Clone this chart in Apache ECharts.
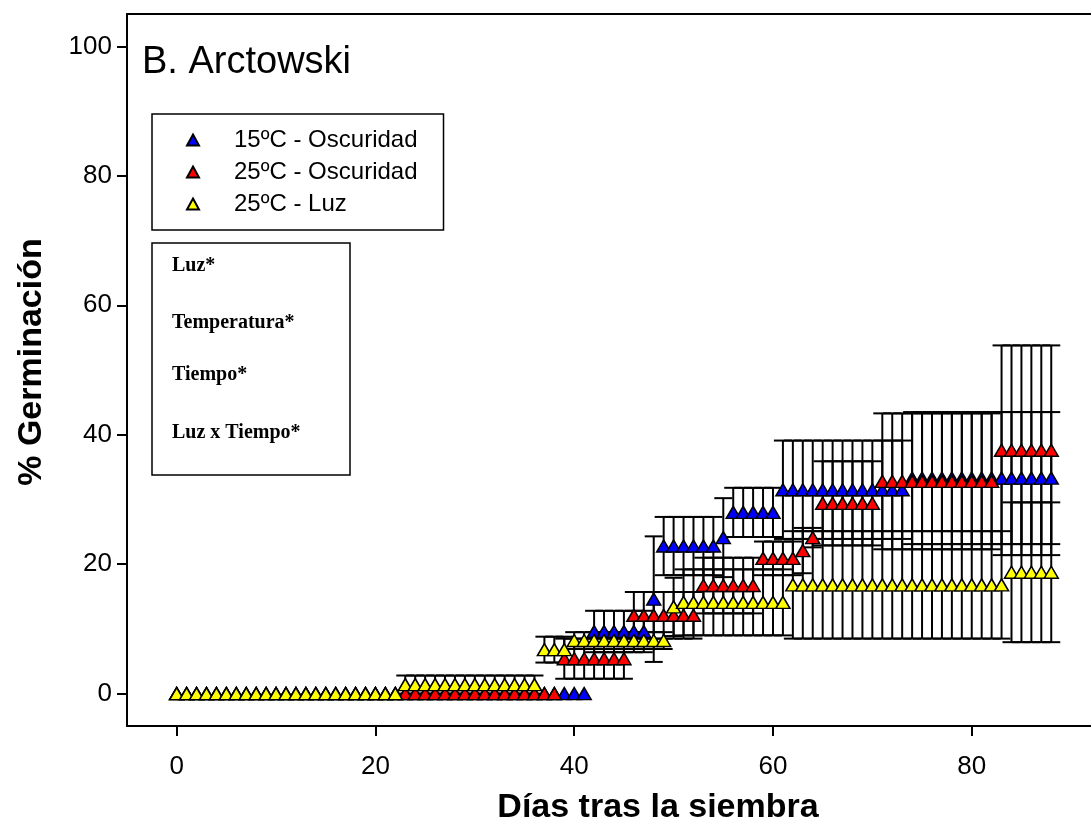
<!DOCTYPE html>
<html>
<head>
<meta charset="utf-8">
<script src="https://cdn.jsdelivr.net/npm/echarts@6/dist/echarts.min.js"></script>
<style>
  html, body { margin: 0; padding: 0; background: #fff; }
  #main { width: 1091px; height: 828px; }
</style>
</head>
<body>
<div id="main"></div>
<script>
var days = [0,1,2,3,4,5,6,7,8,9,10,11,12,13,14,15,16,17,18,19,20,21,22,23,24,25,26,27,28,29,
  30,31,32,33,34,35,36,37,38,39,40,41,42,43,44,45,46,47,48,49,50,51,52,53,54,55,56,57,58,59,
  60,61,62,63,64,65,66,67,68,69,70,71,72,73,74,75,76,77,78,79,80,81,82,83,84,85,86,87,88];

var seriesNames = ['15ºC - Oscuridad', '25ºC - Oscuridad', '25ºC - Luz'];
var xTicks = [0, 20, 40, 60, 80];
var yTicks = [0, 20, 40, 60, 80, 100];

// 15ºC - Oscuridad
var blueMean = [0,0,0,0,0,0,0,0,0,0, 0,0,0,0,0,0,0,0,0,0, 0,0,0,0,0,0,0,0,0,0, 0,0,0,0,0,0,0,0,0,0,
  0,0,9.6,9.6,9.6,9.6,9.6,9.6,14.6,22.8,
  22.8,22.8,22.8,22.8,22.8,24.1,28,28,28,28,
  28,31.5,31.5,31.5,31.5,31.5,31.5,31.5,31.5,31.5,
  31.5,31.5,31.5,31.5,33.3,33.3,33.3,33.3,33.3,33.3,
  33.3,33.3,33.3,33.3,33.3,33.3,33.3,33.3,33.3];
var blueSe = [0,0,0,0,0,0,0,0,0,0, 0,0,0,0,0,0,0,0,0,0, 0,0,0,0,0,0,0,0,0,0, 0,0,0,0,0,0,0,0,0,0,
  0,0,3.2,3.2,3.2,3.2,3.2,3.2,9.7,4.5,
  4.5,4.5,4.5,4.5,4.5,6.1,3.8,3.8,3.8,3.8,
  3.8,7.6,7.6,7.6,7.6,7.6,7.6,7.6,7.6,7.6,
  7.6,7.6,7.6,7.6,10.2,10.2,10.2,10.2,10.2,10.2,
  10.2,10.2,10.2,10.2,10.2,10.2,10.2,10.2,10.2];

// 25ºC - Oscuridad
var redMean = [0,0,0,0,0,0,0,0,0,0, 0,0,0,0,0,0,0,0,0,0, 0,0,0,0,0,0,0,0,0,0,
  0,0,0,0,0,0,0,0,0,5.4,
  5.4,5.4,5.4,5.4,5.4,5.4,12.1,12.1,12.1,12.1,
  12.1,12.1,12.1,16.7,16.7,16.7,16.7,16.7,16.7,20.9,
  20.9,20.9,20.9,22.1,24.1,29.4,29.4,29.4,29.4,29.4,
  29.4,32.8,32.8,32.8,32.8,32.8,32.8,32.8,32.8,32.8,
  32.8,32.8,32.8,37.6,37.6,37.6,37.6,37.6,37.6];
var redSe = [0,0,0,0,0,0,0,0,0,0, 0,0,0,0,0,0,0,0,0,0, 0,0,0,0,0,0,0,0,0,0,
  0,0,0,0,0,0,0,0,0,3.1,
  3.1,3.1,3.1,3.1,3.1,3.1,3.6,3.6,3.6,3.6,
  3.6,3.6,3.6,4.3,4.3,4.3,4.3,4.3,4.3,2.6,
  2.6,2.6,2.6,3.5,1.5,6.5,6.5,6.5,6.5,6.5,
  6.5,10.5,10.5,10.5,10.5,10.5,10.5,10.5,10.5,10.5,
  10.5,10.5,10.5,16.2,16.2,16.2,16.2,16.2,16.2];

// 25ºC - Luz
var yellowMean = [0,0,0,0,0,0,0,0,0,0, 0,0,0,0,0,0,0,0,0,0,
  0,0,0,1.4,1.4,1.4,1.4,1.4,1.4,1.4,
  1.4,1.4,1.4,1.4,1.4,1.4,1.4,6.8,6.8,6.8,
  8.2,8.2,8.2,8.2,8.2,8.2,8.2,8.2,8.2,8.2,
  13.4,14.1,14.1,14.1,14.1,14.1,14.1,14.1,14.1,14.1,
  14.1,14.1,16.8,16.8,16.8,16.8,16.8,16.8,16.8,16.8,
  16.8,16.8,16.8,16.8,16.8,16.8,16.8,16.8,16.8,16.8,
  16.8,16.8,16.8,16.8,18.75,18.75,18.75,18.75,18.75];
var yellowSe = [0,0,0,0,0,0,0,0,0,0, 0,0,0,0,0,0,0,0,0,0,
  0,0,0,1.4,1.4,1.4,1.4,1.4,1.4,1.4,
  1.4,1.4,1.4,1.4,1.4,1.4,1.4,2,2,2,
  1.3,1.3,1.3,1.3,1.3,1.3,1.3,1.3,1.3,1.3,
  4.5,5.1,5.1,5.1,5.1,5.1,5.1,5.1,5.1,5.1,
  5.1,5.1,8.3,8.3,8.3,8.3,8.3,8.3,8.3,8.3,
  8.3,8.3,8.3,8.3,8.3,8.3,8.3,8.3,8.3,8.3,
  8.3,8.3,8.3,8.3,10.8,10.8,10.8,10.8,10.8];

var colors = ['#0000ff', '#ff0000', '#ffff00'];
var means = [blueMean, redMean, yellowMean];
var ses = [blueSe, redSe, yellowSe];

var font = 'Liberation Sans, Arial, sans-serif';
var serif = 'bold 20px Liberation Serif, Times New Roman, serif';

function errorBar(params, api) {
    var x = api.value(0);
    var top = api.coord([x, api.value(2)]);
    var bot = api.coord([x, api.value(1)]);
    var hw = 9;
    var st = { stroke: '#000', lineWidth: 2 };
    return {
        type: 'group',
        children: [
            { type: 'line', shape: { x1: top[0], y1: top[1], x2: bot[0], y2: bot[1] }, style: st },
            { type: 'line', shape: { x1: top[0] - hw, y1: top[1], x2: top[0] + hw, y2: top[1] }, style: st },
            { type: 'line', shape: { x1: bot[0] - hw, y1: bot[1], x2: bot[0] + hw, y2: bot[1] }, style: st }
        ]
    };
}

var series = [];
for (var s = 0; s < 3; s++) {
    var bars = [];
    for (var i = 0; i < days.length; i++) {
        if (ses[s][i] > 0) bars.push([days[i], means[s][i] - ses[s][i], means[s][i] + ses[s][i]]);
    }
    series.push({
        name: 'eb' + s,
        type: 'custom',
        renderItem: errorBar,
        data: bars,
        z: 2,
        silent: true
    });
}
for (var s = 0; s < 3; s++) {
    series.push({
        name: seriesNames[s],
        type: 'scatter',
        symbol: 'triangle',
        symbolSize: [14, 12],
        itemStyle: { color: colors[s], borderColor: '#000', borderWidth: 1.5, opacity: 1 },
        data: days.map(function (d, i) { return [d, means[s][i]]; }),
        z: 3 + s
    });
}

var chart = echarts.init(document.getElementById('main'));

var option = {
    animation: false,
    backgroundColor: '#fff',
    grid: { left: 127, right: 0, top: 14, bottom: 102 },
    xAxis: [{
        type: 'value',
        min: -5,
        max: 92,
        axisLine: { onZero: false, lineStyle: { color: '#000', width: 2 } },
        axisTick: { show: true, customValues: xTicks, length: 10, lineStyle: { color: '#000', width: 2 } },
        axisLabel: { customValues: xTicks, margin: 28, fontSize: 26, color: '#000', fontFamily: font },
        splitLine: { show: false }
    }, {
        type: 'value',
        position: 'top',
        min: -5,
        max: 92,
        axisLine: { show: true, onZero: false, lineStyle: { color: '#000', width: 2 } },
        axisTick: { show: false },
        axisLabel: { show: false },
        splitLine: { show: false }
    }],
    yAxis: {
        type: 'value',
        min: -5,
        max: 105,
        axisLine: { show: true, onZero: false, lineStyle: { color: '#000', width: 2 } },
        axisTick: { show: true, customValues: yTicks, length: 10, lineStyle: { color: '#000', width: 2 } },
        axisLabel: { customValues: yTicks, margin: 15, fontSize: 26, color: '#000', fontFamily: font },
        splitLine: { show: false }
    },
    legend: {
        orient: 'vertical',
        left: 152,
        top: 114,
        padding: [10, 26, 10, 34],
        itemGap: 0,
        itemWidth: 12,
        itemHeight: 11,
        icon: 'triangle',
        borderColor: '#000',
        borderWidth: 1.5,
        selectedMode: false,
        textStyle: { fontSize: 24, color: '#000', fontFamily: font, lineHeight: 32, padding: [0, 0, 0, 30] },
        data: seriesNames
    },
    graphic: [
        { type: 'text', left: 142, top: 44, style: { text: 'B. Arctowski', font: '38px ' + font, fill: '#000' } },
        { type: 'rect', shape: { x: 152, y: 243, width: 198, height: 232 }, style: { fill: 'none', stroke: '#000', lineWidth: 1.5 } },
        { type: 'text', x: 172, y: 266, style: { text: 'Luz*', font: serif, fill: '#000', verticalAlign: 'middle' } },
        { type: 'text', x: 172, y: 323, style: { text: 'Temperatura*', font: serif, fill: '#000', verticalAlign: 'middle' } },
        { type: 'text', x: 172, y: 375, style: { text: 'Tiempo*', font: serif, fill: '#000', verticalAlign: 'middle' } },
        { type: 'text', x: 172, y: 433, style: { text: 'Luz x Tiempo*', font: serif, fill: '#000', verticalAlign: 'middle' } },
        { type: 'text', x: 658, y: 808, style: { text: 'Días tras la siembra', font: 'bold 34px ' + font, fill: '#000', align: 'center', verticalAlign: 'middle' } },
        { type: 'text', x: 32, y: 362, rotation: Math.PI / 2, style: { text: '% Germinación', font: 'bold 34px ' + font, fill: '#000', align: 'center', verticalAlign: 'middle' } }
    ],
    series: series
};

chart.setOption(option);
</script>
</body>
</html>
